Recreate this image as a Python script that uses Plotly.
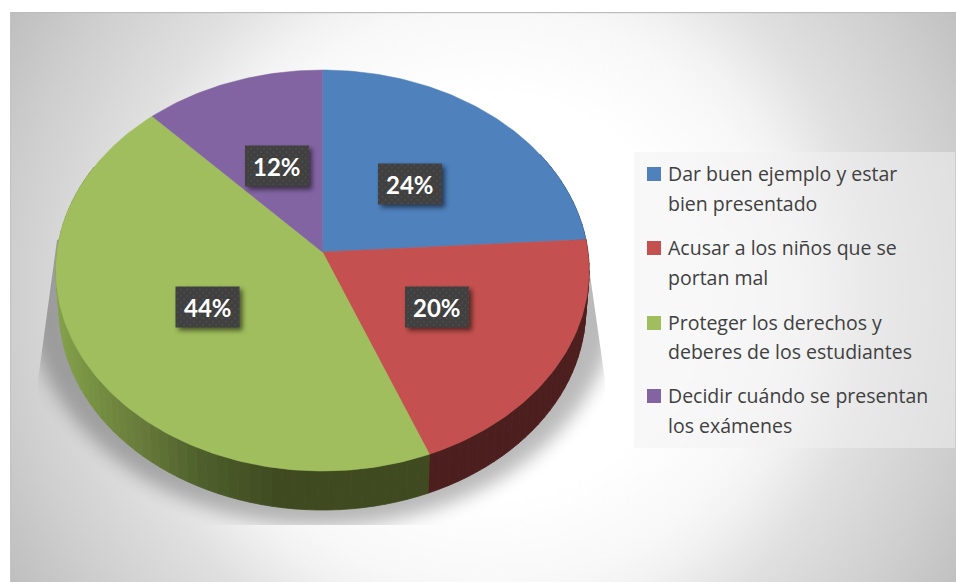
import base64
import numpy as np
import plotly.graph_objects as go

# ---- data
categories = [
    "Dar buen ejemplo y estar bien presentado",
    "Acusar a los niños que se portan mal",
    "Proteger los derechos y deberes de los estudiantes",
    "Decidir cuándo se presentan los exámenes",
]
legend_lines = [
    ["Dar buen ejemplo y estar", "bien presentado"],
    ["Acusar a los niños que se", "portan mal"],
    ["Proteger los derechos y", "deberes de los estudiantes"],
    ["Decidir cuándo se presentan", "los exámenes"],
]
values = [24, 20, 44, 12]

# ---- styles
top_colors = ["#4f81bd", "#c4514f", "#a0be5d", "#8364a3"]
side_colors = ["#2c4a6e", "#4d1e1e", "#3f4a20", "#4a3a60"]
W, H = 956, 582
APEX_X, APEX_Y = 322.5, 252
RX, RY, K = 265.5, 198.8, 0.0923
DEPTH, LOWER_SCALE = 39, 0.987
label_centers = [(410, 184), (437, 307), (207.5, 307), (277, 166)]
BOX_W, BOX_H = 64, 41
legend_line_y = [(173, 203), (247, 277), (322, 351), (395, 425)]
swatch_y = [174, 248, 323, 396]


def rim(theta):
    u, v = np.sin(theta), np.cos(theta)
    d = 1 + K * v
    return APEX_X + RX * u / d, APEX_Y - RY * v / d


def lower(theta):
    x, y = rim(theta)
    return APEX_X + (x - APEX_X) * LOWER_SCALE, y + DEPTH


def green_side(x):
    stops_x = [55, 76, 145, 202, 279, 500]
    r = [0x85, 0x7d, 0x66, 0x4e, 0x3f, 0x3f]
    g = [0xa2, 0x98, 0x79, 0x5f, 0x4a, 0x4a]
    b = [0x4c, 0x46, 0x3a, 0x2c, 0x20, 0x20]
    return "rgb(%d,%d,%d)" % (np.interp(x, stops_x, r), np.interp(x, stops_x, g), np.interp(x, stops_x, b))


fracs = np.cumsum([0] + values) / sum(values)
fig = go.Figure()

# side wall
for i in range(len(values)):
    a0, a1 = 2 * np.pi * fracs[i], 2 * np.pi * fracs[i + 1]
    n = max(2, int(values[i] * 1.6))
    edges = np.linspace(a0, a1, n + 1)
    for s in range(n):
        t = np.linspace(edges[s], edges[s + 1], 5)
        if t[-1] < np.radians(60) or t[0] > np.radians(295):
            continue
        xt, yt = rim(t)
        xb, yb = lower(t[::-1])
        col = green_side(xt.mean()) if i == 2 else side_colors[i]
        fig.add_trace(go.Scatter(
            x=np.r_[xt, xb, xt[0]], y=np.r_[yt, yb, yt[0]], mode="lines", fill="toself",
            fillcolor=col, line=dict(color=col, width=0.8), hoverinfo="skip", showlegend=False))

# top face
for i, name in enumerate(categories):
    t = np.linspace(2 * np.pi * fracs[i], 2 * np.pi * fracs[i + 1], 4 * values[i] + 2)
    xt, yt = rim(t)
    fig.add_trace(go.Scatter(
        x=np.r_[APEX_X, xt, APEX_X], y=np.r_[APEX_Y, yt, APEX_Y], mode="lines", fill="toself",
        fillcolor=top_colors[i], line=dict(color=top_colors[i], width=0.5), name=name,
        hoverinfo="name", showlegend=False))

# background + soft shadow
bg_svg = f'''<svg xmlns="http://www.w3.org/2000/svg" width="{W}" height="{H}" viewBox="0 0 {W} {H}">
<defs>
<radialGradient id="g" gradientUnits="userSpaceOnUse" cx="490" cy="297" r="555">
<stop offset="0.36" stop-color="#ffffff"/><stop offset="0.52" stop-color="#f8f8f8"/>
<stop offset="0.58" stop-color="#f2f2f2"/><stop offset="0.69" stop-color="#e0e0e0"/>
<stop offset="0.87" stop-color="#cecece"/><stop offset="1" stop-color="#bfbfbf"/>
</radialGradient>
<filter id="b" x="-20%" y="-20%" width="140%" height="140%"><feGaussianBlur stdDeviation="9"/></filter>
<clipPath id="c"><polygon points="57,240 38,380 38,525 605,525 605,380 585,240"/></clipPath>
</defs>
<rect width="{W}" height="{H}" fill="#ffffff"/>
<rect x="10" y="12" width="{W-10}" height="{H-12}" fill="url(#g)"/>
<rect x="10" y="12" width="{W-10}" height="1.2" fill="#bdbdbd"/>
<rect x="10" y="12" width="1.2" height="{H-12}" fill="#c4c4c4"/>
<g clip-path="url(#c)"><ellipse cx="322" cy="290" rx="296" ry="236" fill="#000" opacity="0.27" filter="url(#b)"/></g>
<rect x="634" y="152" width="321" height="296" fill="#f2f2f2" opacity="0.5"/>
</svg>'''

boxes = "".join(
    f'<rect x="{cx-BOX_W/2+3}" y="{cy-BOX_H/2+3}" width="{BOX_W}" height="{BOX_H}" fill="#000" opacity="0.55" filter="url(#s)"/>'
    f'<rect x="{cx-BOX_W/2}" y="{cy-BOX_H/2}" width="{BOX_W}" height="{BOX_H}" fill="url(#p)"/>'
    for cx, cy in label_centers)
box_svg = f'''<svg xmlns="http://www.w3.org/2000/svg" width="{W}" height="{H}" viewBox="0 0 {W} {H}">
<defs>
<filter id="s" x="-30%" y="-30%" width="160%" height="160%"><feGaussianBlur stdDeviation="2.5"/></filter>
<pattern id="p" width="6.4" height="6.4" patternUnits="userSpaceOnUse">
<rect width="6.4" height="6.4" fill="#404040"/><circle cx="1.6" cy="1.6" r="0.7" fill="#5c5c5c"/><circle cx="4.8" cy="4.8" r="0.7" fill="#5c5c5c"/>
</pattern></defs>{boxes}</svg>'''


def uri(svg):
    return "data:image/svg+xml;base64," + base64.b64encode(svg.encode()).decode()


images = [
    dict(source=uri(bg_svg), xref="paper", yref="paper", x=0, y=1, sizex=1, sizey=1,
         xanchor="left", yanchor="top", sizing="stretch", layer="below"),
    dict(source=uri(box_svg), xref="paper", yref="paper", x=0, y=1, sizex=1, sizey=1,
         xanchor="left", yanchor="top", sizing="stretch", layer="above"),
]

annotations = []
for v, (cx, cy) in zip(values, label_centers):
    annotations.append(dict(x=cx, y=cy, xref="x", yref="y", text=f"{v}%", showarrow=False,
                            font=dict(family="Lato", size=24, color="#ffffff", weight="bold")))
shapes = []
for i, lines in enumerate(legend_lines):
    shapes.append(dict(type="rect", xref="x", yref="y", x0=647, x1=661, y0=swatch_y[i] - 7, y1=swatch_y[i] + 7,
                       fillcolor=top_colors[i], line=dict(width=0)))
    for line, ly in zip(lines, legend_line_y[i]):
        annotations.append(dict(x=666, y=ly, xref="x", yref="y", text=line, showarrow=False,
                                xanchor="left", align="left",
                                font=dict(family="Open Sans", size=19.5, color="#404040")))

fig.update_layout(
    width=W, height=H, margin=dict(l=0, r=0, t=0, b=0), showlegend=False,
    paper_bgcolor="#ffffff", plot_bgcolor="rgba(0,0,0,0)",
    xaxis=dict(range=[0, W], visible=False, fixedrange=True),
    yaxis=dict(range=[H, 0], visible=False, fixedrange=True),
    images=images, annotations=annotations, shapes=shapes,
)
fig.write_html("out.html", post_script="document.body.style.margin='0';document.body.style.overflow='hidden';",
               config={"displayModeBar": False})
